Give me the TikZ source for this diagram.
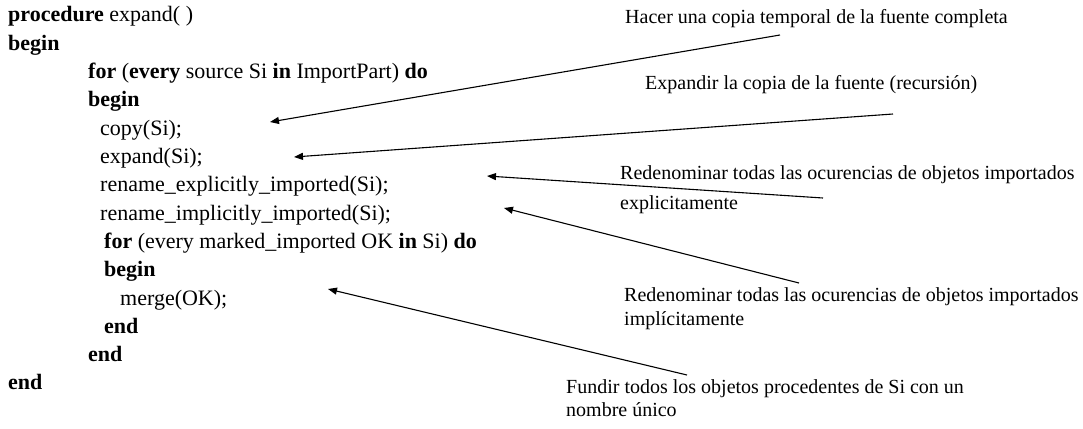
\documentclass[tikz,border=0pt]{standalone}
\usepackage{fontspec}
\setmainfont{Liberation Serif}
\usetikzlibrary{arrows.meta}
\begin{document}
\begin{tikzpicture}[x=1pt,y=-1pt,
  code/.style={anchor=base west,inner sep=0pt,font=\fontsize{22}{26}\selectfont},
  note/.style={anchor=base west,inner sep=0pt,font=\fontsize{20}{24}\selectfont},
  pointer/.style={line width=1.1pt,-{Triangle[length=9pt,width=7pt]}}]
\useasboundingbox (0,0) rectangle (1083,428);
% pseudo-code listing
\node[code] (l1)  at (8,22)    {\textbf{procedure} expand( )};
\node[code] (l2)  at (8,50.3)  {\textbf{begin}};
\node[code] (l3)  at (88,78.6) {\textbf{for} (\textbf{every} source Si \textbf{in} ImportPart) \textbf{do}};
\node[code] (l4)  at (88,106.9) {\textbf{begin}};
\node[code] (l5)  at (100,135.2) {copy(Si);};
\node[code] (l6)  at (100,163.5) {expand(Si);};
\node[code] (l7)  at (100,191.8) {rename\_explicitly\_imported(Si);};
\node[code] (l8)  at (100,220.1) {rename\_implicitly\_imported(Si);};
\node[code] (l9)  at (104,248.4) {\textbf{for} (every marked\_imported OK \textbf{in} Si) \textbf{do}};
\node[code] (l10) at (104,276.7) {\textbf{begin}};
\node[code] (l11) at (120,305)   {merge(OK);};
\node[code] (l12) at (104,333.3) {\textbf{end}};
\node[code] (l13) at (88,361.6)  {\textbf{end}};
\node[code] (l14) at (8,389.9)   {\textbf{end}};
% explanatory notes
\node[note] (n1)  at (625,23.5)  {Hacer una copia temporal de la fuente completa};
\node[note] (n2)  at (645,89.5)  {Expandir la copia de la fuente (recursión)};
\node[note] (n3a) at (620,179.5) {Redenominar todas las ocurencias de objetos importados};
\node[note] (n3b) at (620,209.5) {explicitamente};
\node[note] (n4a) at (624,301.5) {Redenominar todas las ocurencias de objetos importados};
\node[note] (n4b) at (624,325.5) {implícitamente};
\node[note] (n5a) at (566,393.5) {Fundir todos los objetos procedentes de Si con un};
\node[note] (n5b) at (566,416.5) {nombre único};
% arrow ends
\coordinate (t1) at (780,35);  \coordinate (h1) at (270,122);
\coordinate (t2) at (893,114); \coordinate (h2) at (294,157);
\coordinate (t3) at (823,198); \coordinate (h3) at (487,176);
\coordinate (t4) at (799,283); \coordinate (h4) at (504,208);
\coordinate (t5) at (687,375); \coordinate (h5) at (328,289);
\draw[pointer] (t1) -- (h1);
\draw[pointer] (t2) -- (h2);
\draw[pointer] (t3) -- (h3);
\draw[pointer] (t4) -- (h4);
\draw[pointer] (t5) -- (h5);
\end{tikzpicture}
\end{document}
